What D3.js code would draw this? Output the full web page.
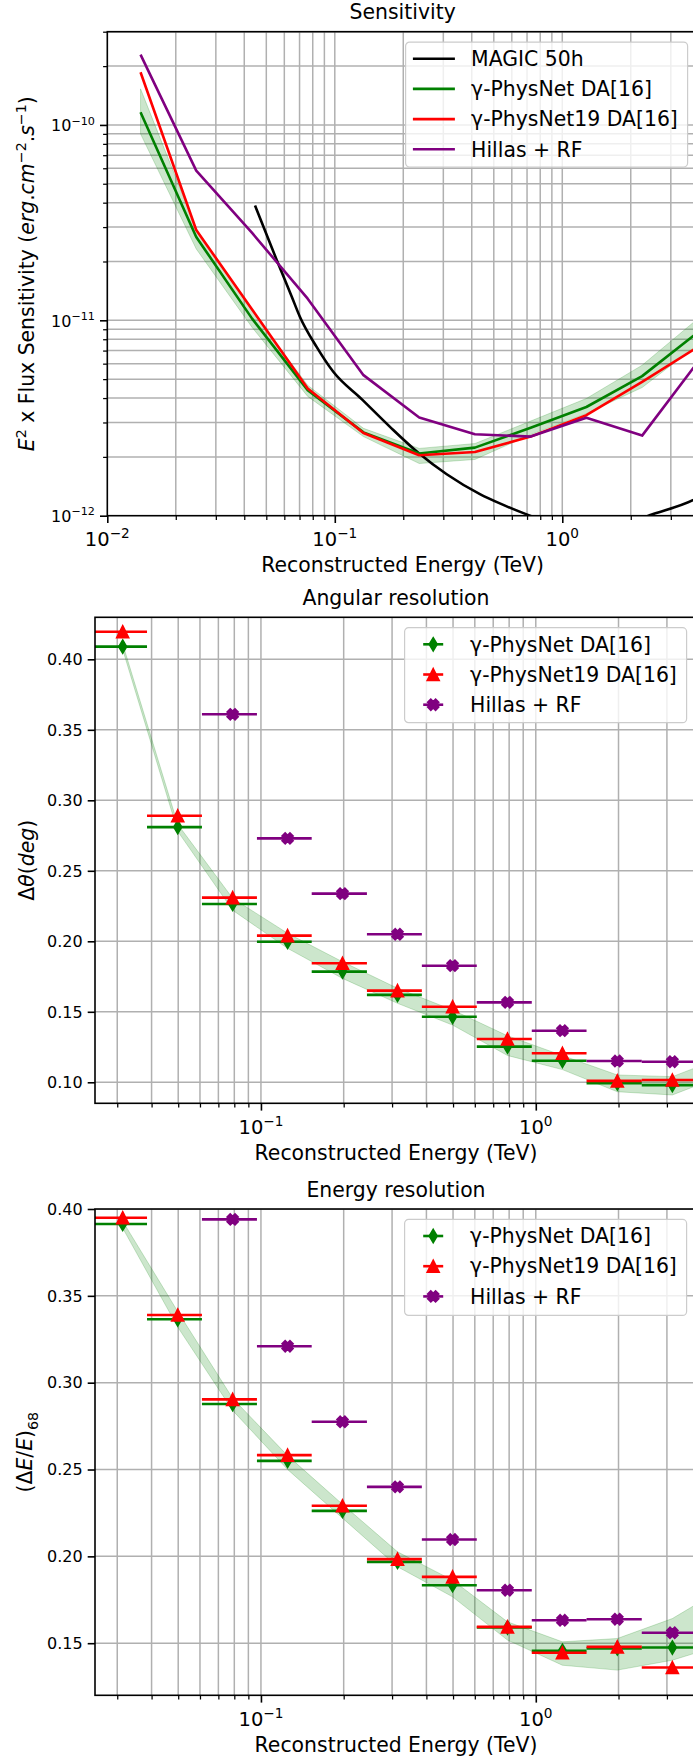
<!DOCTYPE html>
<html>
<head>
<meta charset="utf-8">
<script src="https://cdn.jsdelivr.net/npm/d3@7"></script>
<style>
  body { margin: 0; background: #fff; }
  text { font-family: "DejaVu Sans", sans-serif; fill: #000; }
</style>
</head>
<body>
<svg id="chart" width="693" height="1759"></svg>
<script>

// ---------- sensitivity (TeV, erg cm^-2 s^-1)
var sensEnergy    = [0.0140, 0.0246, 0.0433, 0.0760, 0.1337, 0.235, 0.413, 0.726, 1.276, 2.244, 3.945];
var sensPhysNet   = [1.16e-10, 2.67e-11, 1.02e-11, 4.39e-12, 2.67e-12, 2.08e-12, 2.23e-12, 2.82e-12, 3.60e-12, 5.18e-12, 8.69e-12];
var sensPhysNet19 = [1.86e-10, 2.90e-11, 1.135e-11, 4.48e-12, 2.65e-12, 2.04e-12, 2.12e-12, 2.54e-12, 3.27e-12, 4.84e-12, 7.30e-12];
var sensHillas    = [2.29e-10, 5.84e-11, 2.80e-11, 1.29e-11, 5.24e-12, 3.18e-12, 2.61e-12, 2.54e-12, 3.17e-12, 2.57e-12, 6.12e-12];
var sensBandHigh  = [1.53e-10, 2.94e-11, 1.12e-11, 4.65e-12, 2.80e-12, 2.21e-12, 2.34e-12, 3.05e-12, 3.98e-12, 5.89e-12, 10.2e-12];
var sensBandLow   = [9.0e-11, 2.32e-11, 0.92e-11, 4.08e-12, 2.54e-12, 1.85e-12, 1.94e-12, 2.60e-12, 3.33e-12, 4.53e-12, 7.5e-12];

var magicEnergy = [0.0446, 0.0556, 0.0647, 0.0703, 0.0832, 0.0985, 0.1313, 0.1748, 0.2328, 0.3105, 0.4345, 0.5315, 0.6974, 1.1, 1.7, 2.51, 3.75, 4.5];
var magicSens   = [3.87e-11, 2.03e-11, 1.32e-11, 1.04e-11, 7.31e-12, 5.45e-12, 3.95e-12, 2.85e-12, 2.10e-12, 1.63e-12, 1.29e-12, 1.156e-12, 1.016e-12, 0.88e-12, 0.88e-12, 1.02e-12, 1.2e-12, 1.35e-12];

// ---------- energy bins of the resolution plots (TeV)
var binLow    = [0.0243, 0.0385, 0.0610, 0.0967, 0.153, 0.243, 0.385, 0.610, 0.967, 1.53, 2.43];
var binHigh   = [0.0385, 0.0610, 0.0967, 0.153, 0.243, 0.385, 0.610, 0.967, 1.53, 2.43, 3.85];
var binCenter = [0.0314, 0.0498, 0.0789, 0.125, 0.198, 0.314, 0.498, 0.789, 1.25, 1.98, 3.14];
var bandEnergy = [0.0314, 0.0498, 0.0789, 0.125, 0.198, 0.314, 0.498, 0.789, 1.25, 1.98, 3.14, 4.97];

// angular resolution (deg)
var angPhysNet   = [0.409, 0.281, 0.2265, 0.1997, 0.1785, 0.162, 0.1465, 0.1253, 0.1153, 0.0993, 0.098];
var angPhysNet19 = [0.4196, 0.289, 0.231, 0.204, 0.1844, 0.165, 0.1536, 0.1307, 0.1206, 0.101, 0.1016];
var angHillas    = [null, null, 0.361, 0.273, 0.2338, 0.205, 0.1827, 0.1567, 0.1366, 0.1151, 0.1146];
var angBandHigh  = [0.411, 0.283, 0.2305, 0.2057, 0.1855, 0.1667, 0.1513, 0.133, 0.119, 0.1052, 0.104, 0.119];
var angBandLow   = [0.407, 0.278, 0.222, 0.195, 0.1737, 0.156, 0.1406, 0.119, 0.109, 0.0933, 0.091, 0.106];

// energy resolution
var eresPhysNet   = [0.3914, 0.3365, 0.2877, 0.255, 0.2262, 0.1968, 0.1834, 0.159, 0.1456, 0.147, 0.1475];
var eresPhysNet19 = [0.395, 0.339, 0.2904, 0.2583, 0.2291, 0.1984, 0.1882, 0.1594, 0.1445, 0.1479, 0.136];
var eresHillas    = [null, null, 0.394, 0.321, 0.2775, 0.24, 0.2097, 0.1805, 0.1632, 0.1638, 0.156];
var eresBandHigh  = [0.393, 0.341, 0.291, 0.258, 0.23, 0.2026, 0.1863, 0.1623, 0.1508, 0.1527, 0.1642, 0.183];
var eresBandLow   = [0.389, 0.332, 0.284, 0.25, 0.222, 0.194, 0.1767, 0.1518, 0.1373, 0.1345, 0.1402, 0.150];

// ---------- ticks
var sensXTicks = [0.01, 0.1, 1];
var sensXTickLabels = [["10", "\u22122"], ["10", "\u22121"], ["10", "0"]];
var sensYTicks = [1e-12, 1e-11, 1e-10];
var sensYTickLabels = [["10", "\u221212"], ["10", "\u221211"], ["10", "\u221210"]];
var resXTicks = [0.1, 1];
var resXTickLabels = [["10", "\u22121"], ["10", "0"]];
var angYTicks = [0.10, 0.15, 0.20, 0.25, 0.30, 0.35, 0.40];
var angYTickLabels = ["0.10", "0.15", "0.20", "0.25", "0.30", "0.35", "0.40"];
var eresYTicks = [0.15, 0.20, 0.25, 0.30, 0.35, 0.40];
var eresYTickLabels = ["0.15", "0.20", "0.25", "0.30", "0.35", "0.40"];

var C_GREEN = "green", C_RED = "red", C_PURPLE = "purple", C_GRID = "#b0b0b0";
var FS = 20.4, TFS = 16, XTFS = 19.5;

var svg = d3.select("#chart");
svg.append("rect").attr("width", 693).attr("height", 1759).attr("fill", "#fff");
var defs = svg.append("defs");

// write mathtext-like labels with tspans
function richText(t, parts, size) {
  var shift = 0;
  parts.forEach(function(p) {
    var s = p[0], st = p[1] || "n";
    var sp = t.append("tspan").text(s);
    var target = 0, fs = size;
    if (st === "sup" || st === "supi") { target = -0.42 * size; fs = size * 0.7; }
    if (st === "sub") { target = 0.25 * size; fs = size * 0.7; }
    sp.attr("font-size", fs).attr("dy", target - shift);
    shift = target;
    if (st === "i" || st === "supi") sp.attr("font-style", "italic");
  });
}

function isMajor(v, majors) {
  return majors.some(function(m) { return Math.abs(Math.log10(v) - Math.log10(m)) < 1e-6; });
}

function makePanel(o) {
  var g = svg.append("g");
  var x = d3.scaleLog().domain(o.xDomain).range([o.left, o.right]);
  var y = (o.yLog ? d3.scaleLog() : d3.scaleLinear()).domain(o.yDomain).range([o.bottom, o.top]);

  defs.append("clipPath").attr("id", "clip" + o.id).append("rect")
      .attr("x", o.left).attr("y", o.top)
      .attr("width", o.right - o.left).attr("height", o.bottom - o.top);

  var xAll = x.ticks();
  var yAll = o.yLog ? y.ticks() : o.yTicks;

  // grid, major and minor
  var grid = g.append("g").attr("clip-path", "url(#clip" + o.id + ")");
  grid.selectAll(".gx").data(xAll).join("line")
      .attr("x1", function(d) { return x(d); }).attr("x2", function(d) { return x(d); })
      .attr("y1", o.top).attr("y2", o.bottom)
      .attr("stroke", C_GRID).attr("stroke-width", 1.5);
  grid.selectAll(".gy").data(yAll).join("line")
      .attr("y1", function(d) { return y(d); }).attr("y2", function(d) { return y(d); })
      .attr("x1", o.left).attr("x2", o.right)
      .attr("stroke", C_GRID).attr("stroke-width", 1.5);

  var plot = g.append("g").attr("clip-path", "url(#clip" + o.id + ")");
  var front = g.append("g");

  // x ticks
  var xMinor = xAll.filter(function(d) { return !isMajor(d, o.xTicks); });
  front.append("g").attr("transform", "translate(0," + o.bottom + ")")
      .call(d3.axisBottom(x).tickValues(xMinor).tickSize(4.2).tickFormat(""))
      .call(function(a) { a.select(".domain").remove(); a.selectAll("line").attr("stroke-width", 1.25); });
  front.append("g").attr("transform", "translate(0," + o.bottom + ")")
      .call(d3.axisBottom(x).tickValues(o.xTicks).tickSize(7.3).tickFormat(""))
      .call(function(a) { a.select(".domain").remove(); a.selectAll("line").attr("stroke-width", 1.6); });
  o.xTicks.forEach(function(v, i) {
    var t = front.append("text").attr("x", x(v)).attr("y", o.bottom + 30.5)
        .attr("text-anchor", "middle").attr("font-size", XTFS);
    var l = o.xTickLabels[i];
    richText(t, [[l[0], "n"], [l[1], "sup"]], XTFS);
  });

  // y ticks
  if (o.yLog) {
    var yMinor = yAll.filter(function(d) { return !isMajor(d, o.yTicks); });
    front.append("g").attr("transform", "translate(" + o.left + ",0)")
        .call(d3.axisLeft(y).tickValues(yMinor).tickSize(4.2).tickFormat(""))
        .call(function(a) { a.select(".domain").remove(); a.selectAll("line").attr("stroke-width", 1.25); });
  }
  front.append("g").attr("transform", "translate(" + o.left + ",0)")
      .call(d3.axisLeft(y).tickValues(o.yTicks).tickSize(7.3).tickFormat(""))
      .call(function(a) { a.select(".domain").remove(); a.selectAll("line").attr("stroke-width", 1.6); });
  o.yTicks.forEach(function(v, i) {
    var l = o.yTickLabels[i];
    var t = front.append("text").attr("x", o.left - 12.3).attr("text-anchor", "end").attr("font-size", TFS);
    if (Array.isArray(l)) {
      t.attr("y", y(v) + 6.5);
      richText(t, [[l[0], "n"], [l[1], "sup"]], TFS);
    } else {
      t.attr("y", y(v) + 5.8).text(l);
    }
  });

  // spines
  front.append("rect")
      .attr("x", o.left).attr("y", o.top)
      .attr("width", o.right - o.left).attr("height", o.bottom - o.top)
      .attr("fill", "none").attr("stroke", "#000").attr("stroke-width", 1.6);

  // title and labels
  var cx = (o.left + o.right) / 2;
  front.append("text").attr("x", cx).attr("y", o.top - 12.3)
      .attr("text-anchor", "middle").attr("font-size", FS).text(o.title);
  front.append("text").attr("x", cx).attr("y", o.bottom + 56.5)
      .attr("text-anchor", "middle").attr("font-size", FS).text("Reconstructed Energy (TeV)");
  var cy = (o.top + o.bottom) / 2;
  var yl = front.append("text").attr("x", o.yLabelX).attr("y", cy)
      .attr("text-anchor", "middle").attr("font-size", FS)
      .attr("transform", "rotate(-90," + o.yLabelX + "," + cy + ")");
  richText(yl, o.yLabel, FS);

  return { g: g, x: x, y: y, plot: plot, front: front, o: o };
}

// marker shapes (matplotlib 'd', '^', 'X')
function diamondPath(s) {
  return "M0," + (-s) + "L" + (0.6 * s) + ",0L0," + s + "L" + (-0.6 * s) + ",0Z";
}
function trianglePath(s) {
  return "M0," + (-s) + "L" + s + "," + s + "L" + (-s) + "," + s + "Z";
}
function xPath(s) {
  var v = [[-1, -0.4], [-1, 0.4], [-0.4, 0.4], [-0.4, 1], [0.4, 1], [0.4, 0.4],
           [1, 0.4], [1, -0.4], [0.4, -0.4], [0.4, -1], [-0.4, -1], [-0.4, -0.4]];
  var c = Math.SQRT1_2;
  return "M" + v.map(function(p) {
    return [(p[0] * c - p[1] * c) * s, (p[0] * c + p[1] * c) * s].join(",");
  }).join("L") + "Z";
}
var markerPath = { d: diamondPath(6.6), t: trianglePath(6.0), x: xPath(5.6) };

function drawErrSeries(p, vals, color, marker) {
  var pts = vals.map(function(v, i) {
    return { lo: binLow[i], hi: binHigh[i], c: binCenter[i], v: v };
  }).filter(function(d) { return d.v != null; });
  var s = p.plot.append("g");
  s.selectAll("line").data(pts).join("line")
      .attr("x1", function(d) { return p.x(d.lo); }).attr("x2", function(d) { return p.x(d.hi); })
      .attr("y1", function(d) { return p.y(d.v); }).attr("y2", function(d) { return p.y(d.v); })
      .attr("stroke", color).attr("stroke-width", 2.6);
  s.selectAll("path").data(pts).join("path")
      .attr("transform", function(d) { return "translate(" + p.x(d.c) + "," + p.y(d.v) + ")"; })
      .attr("d", markerPath[marker])
      .attr("fill", color).attr("stroke", color).attr("stroke-width", 1.6).attr("stroke-linejoin", "miter");
}

function drawBand(p, xs, lo, hi) {
  var d = xs.map(function(e, i) { return { e: e, lo: lo[i], hi: hi[i] }; });
  p.plot.append("path").datum(d)
      .attr("d", d3.area()
        .x(function(r) { return p.x(r.e); })
        .y0(function(r) { return p.y(r.lo); })
        .y1(function(r) { return p.y(r.hi); }))
      .attr("fill", C_GREEN).attr("fill-opacity", 0.2)
      .attr("stroke", C_GREEN).attr("stroke-opacity", 0.2).attr("stroke-width", 1);
}

function drawLine(p, xs, ys, color, curve) {
  var d = xs.map(function(e, i) { return [e, ys[i]]; });
  p.plot.append("path").datum(d)
      .attr("d", d3.line()
        .x(function(r) { return p.x(r[0]); })
        .y(function(r) { return p.y(r[1]); })
        .curve(curve || d3.curveLinear))
      .attr("fill", "none").attr("stroke", color).attr("stroke-width", 2.6)
      .attr("stroke-linejoin", "round");
}

function legend(p, entries, height) {
  var o = p.o, w = 282;
  var lx = o.right - 10.4 - w, ly = o.top + 10.4;
  var lg = svg.append("g").attr("transform", "translate(" + lx + "," + ly + ")");
  lg.append("rect").attr("width", w).attr("height", height).attr("rx", 4)
      .attr("fill", "#fff").attr("fill-opacity", 0.8)
      .attr("stroke", "#cccccc").attr("stroke-width", 1.2);
  entries.forEach(function(e, i) {
    var ry = 16.6 + 30.2 * i;
    if (e.marker) {
      lg.append("line").attr("x1", 18.6).attr("x2", 38.6).attr("y1", ry).attr("y2", ry)
          .attr("stroke", e.color).attr("stroke-width", 2.6);
      lg.append("path").attr("transform", "translate(28.6," + ry + ")").attr("d", markerPath[e.marker])
          .attr("fill", e.color).attr("stroke", e.color).attr("stroke-width", 1.6);
    } else {
      lg.append("line").attr("x1", 7.3).attr("x2", 49.3).attr("y1", ry).attr("y2", ry)
          .attr("stroke", e.color).attr("stroke-width", 2.6);
    }
    lg.append("text").attr("x", 65.5).attr("y", ry + 7.3).attr("font-size", FS).text(e.label);
  });
}

// ---------- panel 1: sensitivity
var p1 = makePanel({
  id: 1, left: 107.3, right: 698, top: 31.7, bottom: 515.7,
  xDomain: [0.01, 3.95], yDomain: [1e-12, 3e-10], yLog: true,
  xTicks: sensXTicks, xTickLabels: sensXTickLabels,
  yTicks: sensYTicks, yTickLabels: sensYTickLabels,
  title: "Sensitivity", yLabelX: 34.5,
  yLabel: [["E", "i"], ["2", "sup"], [" x Flux Sensitivity ", "n"], ["(", "n"], ["erg", "i"], [".", "n"], ["cm", "i"],
           ["\u22122", "sup"], [".", "n"], ["s", "i"], ["\u22121", "sup"], [")", "n"]]
});
drawBand(p1, sensEnergy, sensBandLow, sensBandHigh);
drawLine(p1, magicEnergy, magicSens, "#000", d3.curveMonotoneX);
drawLine(p1, sensEnergy, sensPhysNet, C_GREEN);
drawLine(p1, sensEnergy, sensPhysNet19, C_RED);
drawLine(p1, sensEnergy, sensHillas, C_PURPLE);
legend(p1, [
  { label: "MAGIC 50h", color: "#000" },
  { label: "\u03b3-PhysNet DA[16]", color: C_GREEN },
  { label: "\u03b3-PhysNet19 DA[16]", color: C_RED },
  { label: "Hillas + RF", color: C_PURPLE }
], 125);

// ---------- panel 2: angular resolution
var p2 = makePanel({
  id: 2, left: 95, right: 697, top: 617.3, bottom: 1103.3,
  xDomain: [0.0249, 3.86], yDomain: [0.0851, 0.4298], yLog: false,
  xTicks: resXTicks, xTickLabels: resXTickLabels,
  yTicks: angYTicks, yTickLabels: angYTickLabels,
  title: "Angular resolution", yLabelX: 34,
  yLabel: [["\u0394", "n"], ["\u03b8", "i"], ["(", "n"], ["deg", "i"], [")", "n"]]
});
drawBand(p2, bandEnergy, angBandLow, angBandHigh);
drawErrSeries(p2, angPhysNet, C_GREEN, "d");
drawErrSeries(p2, angPhysNet19, C_RED, "t");
drawErrSeries(p2, angHillas, C_PURPLE, "x");
legend(p2, [
  { label: "\u03b3-PhysNet DA[16]", color: C_GREEN, marker: "d" },
  { label: "\u03b3-PhysNet19 DA[16]", color: C_RED, marker: "t" },
  { label: "Hillas + RF", color: C_PURPLE, marker: "x" }
], 95);

// ---------- panel 3: energy resolution
var p3 = makePanel({
  id: 3, left: 95, right: 697, top: 1209, bottom: 1695.3,
  xDomain: [0.0249, 3.86], yDomain: [0.12, 0.40], yLog: false,
  xTicks: resXTicks, xTickLabels: resXTickLabels,
  yTicks: eresYTicks, yTickLabels: eresYTickLabels,
  title: "Energy resolution", yLabelX: 32.5,
  yLabel: [["(\u0394", "n"], ["E", "i"], ["/", "n"], ["E", "i"], [")", "n"], ["68", "sub"]]
});
drawBand(p3, bandEnergy, eresBandLow, eresBandHigh);
drawErrSeries(p3, eresPhysNet, C_GREEN, "d");
drawErrSeries(p3, eresPhysNet19, C_RED, "t");
drawErrSeries(p3, eresHillas, C_PURPLE, "x");
legend(p3, [
  { label: "\u03b3-PhysNet DA[16]", color: C_GREEN, marker: "d" },
  { label: "\u03b3-PhysNet19 DA[16]", color: C_RED, marker: "t" },
  { label: "Hillas + RF", color: C_PURPLE, marker: "x" }
], 96);

</script>
</body>
</html>
